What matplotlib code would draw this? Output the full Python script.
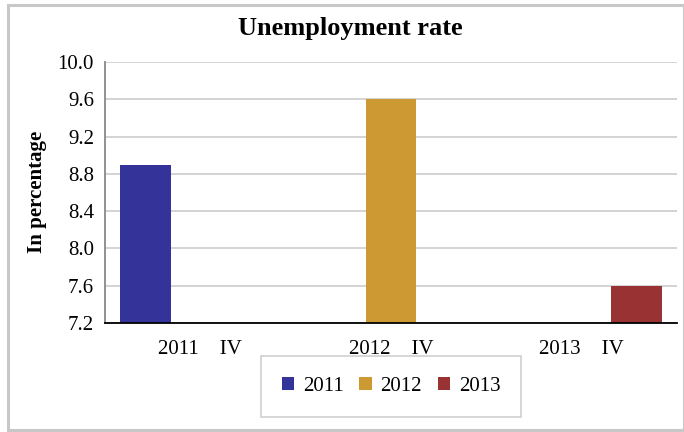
import matplotlib
matplotlib.use("Agg")
import matplotlib.pyplot as plt
import numpy as np
from matplotlib.patches import Rectangle

categories = ["2011    IV", "2012    IV", "2013    IV"]
series_names = ["2011", "2012", "2013"]
# one value per series, each in its own quarter; the rest is empty
values_2011 = [8.9, np.nan, np.nan]
values_2012 = [np.nan, 9.6, np.nan]
values_2013 = [np.nan, np.nan, 7.6]
colors = ["#333399", "#CC9933", "#993333"]

plt.rcParams["font.family"] = ["Liberation Serif", "DejaVu Serif"]

fig = plt.figure(figsize=(6.84, 4.32), dpi=100)
ax = fig.add_axes([0.1535, 0.2523, 0.8363, 0.6042])

# outer frame of the chart
fig.patches.append(Rectangle((8 / 684, 2 / 432), 676 / 684, 425 / 432,
                             transform=fig.transFigure, fill=False,
                             edgecolor="#c8c8c8", linewidth=2.2))

x = np.arange(len(categories))
w = 0.267
step = 0.287
base = 7.2
for i, (vals, name) in enumerate(zip([values_2011, values_2012, values_2013], series_names)):
    v = np.array(vals, dtype=float)
    ax.bar(x + (i - 1) * step, v - base, bottom=base, width=w,
           color=colors[i], label=name, zorder=3)

ax.set_xlim(-0.5, 2.5)
ax.set_ylim(7.2, 10.0)
ax.set_yticks(np.arange(7.2, 10.01, 0.4))
ax.set_yticklabels([f"{t:.1f}" for t in np.arange(7.2, 10.01, 0.4)], fontsize=15)
ax.set_xticks(x)
ax.set_xticklabels(categories, fontsize=15)
ax.tick_params(axis="both", length=0, pad=8)
ax.tick_params(axis="x", pad=12)
ax.grid(axis="y", color="#d0d0d0", linewidth=1.3, zorder=0)

for s in ["top", "right"]:
    ax.spines[s].set_visible(False)
ax.spines["left"].set_color("#888888")
ax.spines["left"].set_linewidth(1.3)
ax.spines["bottom"].set_color("#000000")
ax.spines["bottom"].set_linewidth(1.3)
ax.spines["bottom"].set_zorder(4)

fig.text(0.512, 0.935, "Unemployment rate", ha="center", va="center",
         fontsize=19, fontweight="bold")
fig.text(0.054, 0.556, "In percentage", ha="center", va="center",
         rotation=90, fontsize=15, fontweight="bold")

leg = fig.legend(loc="center", bbox_to_anchor=(391 / 684, 1 - 386.5 / 432),
                 ncol=3, frameon=True, fancybox=False, fontsize=15,
                 handlelength=0.62, handleheight=0.62, handletextpad=0.4,
                 columnspacing=0.75, borderpad=1.0, borderaxespad=0,
                 edgecolor="#c8c8c8")
leg.get_frame().set_linewidth(1.3)

fig.savefig("out.png", dpi=100)
